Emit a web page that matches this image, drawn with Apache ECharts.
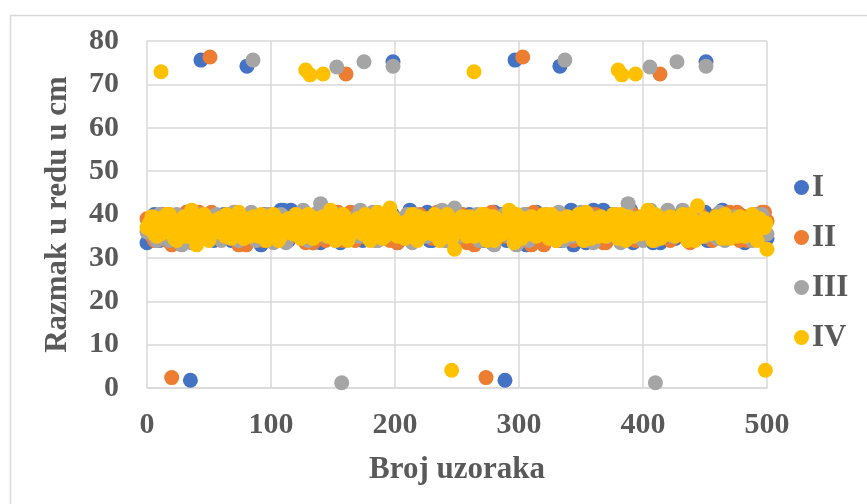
<!DOCTYPE html>
<html>
<head>
<meta charset="utf-8">
<script src="https://cdn.jsdelivr.net/npm/echarts@6/dist/echarts.min.js"></script>
<style>
html,body{margin:0;padding:0;background:#fff;}
#c{width:867px;height:504px;}
</style>
</head>
<body>
<div id="c"></div>
<script>
// Sample numbers (x) for the dense band, interleaved sets
var sampleX = [0,4,8,12,16,20,24,28,32,36,40,44,48,52,56,60,64,68,72,76,80,84,88,92,96,
100,104,108,112,116,120,124,128,132,136,140,144,148,152,156,160,164,168,172,176,180,184,188,192,196,
200,204,208,212,216,220,224,228,232,236,240,244,248,252,256,260,264,268,272,276,280,284,288,292,296,
300,304,308,312,316,320,324,328,332,336,340,344,348,352,356,360,364,368,372,376,380,384,388,392,396,
400,404,408,412,416,420,424,428,432,436,440,444,448,452,456,460,464,468,472,476,480,484,488,492,496,500];

var sampleX2 = [2,6,10,14,18,22,26,30,34,38,42,46,50,54,58,62,66,70,74,78,82,86,90,94,98,
102,106,110,114,118,122,126,130,134,138,142,146,150,154,158,162,166,170,174,178,182,186,190,194,198,
202,206,210,214,218,222,226,230,234,238,242,246,250,254,258,262,266,270,274,278,282,286,290,294,298,
302,306,310,314,318,322,326,330,334,338,342,346,350,354,358,362,366,370,374,378,382,386,390,394,398,
402,406,410,414,418,422,426,430,434,438,442,446,450,454,458,462,466,470,474,478,482,486,490,494,498];

var sampleX3 = [3,7,11,15,19,23,27,31,35,39,43,47,51,55,59,63,67,71,75,79,83,87,91,95,99,
103,107,111,115,119,123,127,131,135,139,143,147,151,155,159,163,167,171,175,179,183,187,191,195,199,
203,207,211,215,219,223,227,231,235,239,243,247,251,255,259,263,267,271,275,279,283,287,291,295,299,
303,307,311,315,319,323,327,331,335,339,343,347,351,355,359,363,367,371,375,379,383,387,391,395,399,
403,407,411,415,419,423,427,431,435,439,443,447,451,455,459,463,467,471,475,479,483,487,491,495,499];

var bandI = [33.5,38,36,40,35,37.5,34,39.5,40.5,35.5,
38,34.5,37,39,35,36.5,40,34,38.5,36,
39,35,37,33,38,36,39.5,41,34,41,
37,35,39,36,40,33.5,38,35,39.5,33.5,
37,36,40,34.5,38,36,39,35,37.5,40,
34,38.5,36,41,35,37,39.5,34,38,36.5,
40,35,33.5,38,36,40,35,37.5,34,39.5,
40.5,35.5,38,34.5,37,39,35,36.5,40,34,
38.5,36,39,35,37,40,33,38,36,39.5,
41,34,41,37,35,39,36,40,33.5,38,
35,39.5,33.5,37,36,40,34.5,38,36,39,
35,37.5,40,34,38.5,36,41,35,37,39.5,
34,38,36.5,40,35,34.5];
var bandI2 = [36,40,34,38.5,35.5,39,33.5,37,40.5,35,
38,36,39.5,34,37,40,35.5,38.5,33.5,36.5,
39,34.5,37.5,40,35,38,36,41,34,37,
39.5,35,38,33.5,36,40,34.5,37,39,35.5,
38,36.5,40.5,34,37,39,35,38.5,36,40,
33.5,37.5,39.5,35,38,36,40.5,34,37,39,
35.5,38,36,40,34.5,37,39.5,35,38.5,33.5,
36.5,40,34,38,35.5,39,33,37,40.5,35,
38,36,39.5,34,37,41,35.5,38.5,33.5,36.5,
39,34.5,37.5,40,35,38,36,41,34,37,
39.5,35,38,33.5,36,40,34.5,37,39,35.5,
38,36.5,40.5,34,37,39,35,38.5,36,40,
33.5,37.5,39.5,35,38];

var bandII = [39,35,37.5,40,34,33,38,36,40.5,35,
37,39,34.5,40.5,36,38,35,39.5,40.5,34,
33,37,36,39,35,38,34,39.5,36,37,
40,35,33.5,38,36,39,34,37.5,40,35,
36,40.5,34,38,35.5,39,36,37,40,34,
38,35,39,36.5,34,40,37,35,38.5,40.5,
36,34,39,37,35,38,33,36,40,34.5,
37,39,35,40.5,36,38,34,39.5,40.5,34,
33,37,36,39,35,38,34,39.5,36,37,
40,35,33.5,38,36,39,34,37.5,40,35,
36,40.5,34,38,35.5,39,36,37,40,34,
38,35,39,36.5,34,40,37,35,38.5,40.5,
36,34,39,37,40.5,38.5];
var bandII2 = [37,34,39.5,36,40,33.5,38,35,39,36.5,
40.5,34.5,37.5,39,35,38,36,40,33,37,
39.5,35.5,38,34,40,36.5,37,39,34.5,38.5,
35,40,36,33.5,38,39.5,35.5,37,40.5,34,
38,36,39,35,37.5,40,34,38.5,36.5,39.5,
33.5,37,40,35,38,36,39,34.5,40.5,37,
34,39.5,36,40,33.5,38,35,39,36.5,40.5,
34.5,37.5,39,35,38,36,40,33,37,39.5,
35.5,38,34,40,36.5,37,39,34.5,38.5,35,
40,36,33.5,38,39.5,35.5,37,40.5,34,38,
36,39,35,37.5,40,34,38.5,36.5,39.5,33.5,
37,40,35,38,36,39,34.5,40.5,37,34,
39.5,36,40,38,40.5];

var bandIII = [36,39,34,38,37,35,40,33,38.5,33.5,
36,39.5,35,37,40,34,38,36,39,35,
37.5,40.5,34,38,35,39,36,40,33.5,37,
39,35,38,36,40,42.5,35,38.5,34,40,
37,36,39,41,35,38,34,40,37,35.5,
39,36,38,34.5,40,37,35,39,36,38,
34,37,41.5,35,39,36,38,34,37,39.5,
33,36,40,35,38,37,40,34,38,36,
39,35,37.5,40.5,34,38,35,39,36,40,
33.5,37,39,35,38,36,40,42.5,35,38.5,
34,40,37,36,39,41,35,38,41,40,
37,35.5,39,36,38,34.5,40,37,35,39,
36,38,34,37,40,35.5];
var bandIII2 = [38,35,40,36.5,34,39,37,33.5,38.5,36,
40,34.5,37,39.5,35,38,36,40.5,34,37.5,
39,35.5,38,36,40,33.5,37,39.5,35,38.5,
36,41,34,37,39,35.5,38,36.5,40,34.5,
37.5,39,35,38,36,40.5,34,37,39.5,35.5,
38,36,40,33.5,37,39,35,38.5,36.5,41,
34,37.5,39,35.5,38,36,40,34.5,37,39.5,
35,38,36.5,40,33,37,39,35.5,38.5,36,
40,34.5,37,39.5,35,38,36,40.5,34,37.5,
39,35.5,38,36,40,33.5,37,39.5,35,38.5,
36,41,34,37,39,35.5,38,36.5,40,34.5,
37.5,39,35,38,36,40.5,34,37,39.5,35.5,
38,36,40,34.5,37];

var bandIV = [37,39.5,35,38,40,36,34,38.5,36,41,
33,37,39,35.5,38,36,40,34.5,37,39,
35,38,36.5,40,34,37.5,39,35,38,36,
40,34.5,37,39.5,35,38,36,41,34,37,
39,35.5,38,36,40,34,37.5,39,35,41.5,
36,38,34.5,39,37,35,38,36,40,34,
37,39,32,38,36,39.5,35,38,40,36,
34,38.5,36,41,33.5,37,39,35.5,38,36,
40,34.5,37,39,35,38,36.5,40,34,37.5,
39,35,38,36,40,34.5,37,39.5,35,38,
36,41,34,37,39,35.5,38,36,40,34,
37.5,42,35,38,36,38,34.5,39,37,35,
38,36,40,34,37,32];
var bandIV2 = [38,35.5,39,36,40,34.5,37.5,39.5,35,38,
36.5,40,34,37,39,35.5,38.5,36,40.5,34.5,
37,39.5,35,38,36,40,34,37.5,39,35.5,
38,36.5,40,34.5,37,39.5,35,38.5,36,40,
34,37,39,35.5,38,36,40.5,34.5,37.5,39.5,
35,38,36.5,40,34,37,39,35.5,38.5,36,
40,34.5,37,39.5,35,38,36,40,34,37.5,
39,35.5,38,36.5,40,34.5,37,39.5,35,38.5,
36,40,34,37,39,35.5,38,36,40.5,34.5,
37.5,39.5,35,38,36.5,40,34,37,39,35.5,
38.5,36,40,34.5,37,39.5,35,38,36,40,
34,37.5,39,35.5,38,36.5,40,34.5,37,39.5,
35,38,36,39,37];
var bandIV3 = [36.5,38,35.5,37,39,36,38.5,35,37.5,39.5,
35.5,37,38.5,36,39,35,37.5,38,36.5,39,
35,38,36,37.5,39.5,35.5,37,38.5,36,39,
37,35,38,36.5,39,35.5,37.5,38.5,36,39.5,
35,37,38,36,39,35.5,38.5,36.5,37.5,39,
36,38,35,37,39.5,35.5,38.5,36.5,37,39,
35,37.5,38,36,39,35.5,37,38.5,36.5,39.5,
35,38,36,37.5,39,35.5,37,38.5,36,39,
37,35,38,36.5,39.5,35.5,37.5,38.5,36,39,
35,37,38,36,39,35.5,38.5,36.5,37.5,39.5,
36,38,35,37,39,35.5,38.5,36.5,37,39,
35,37.5,38,36,39.5,35.5,37,38.5,36.5,39,
36,38,35.5,37,38];

// Outlying samples [x, y]
var outI   = [[43.5,75.6],[80.6,74.2],[198.4,75.2],[296.8,75.6],[333,74.2],[450.8,75.2],[35,1.8],[288.7,1.8]];
var outII  = [[50.8,76.3],[160.5,72.4],[303,76.3],[413.7,72.4],[19.9,2.4],[273.4,2.4]];
var outIII = [[85.5,75.6],[153,74],[175,75.2],[198.4,74.2],[337,75.6],[405.6,74],[427.4,75.2],[450.8,74.2],[157,1.2],[410,1.2]];
var outIV  = [[11.3,72.9],[128,73.3],[131.5,72.2],[142,72.4],[263.7,72.9],[380,73.3],[383,72.2],[394,72.4],[245.7,4.1],[498.7,4.1]];

var seriesNames = ['I','II','III','IV'];
var colors = ['#4472C4','#ED7D31','#A5A5A5','#FFC000'];
var xTicks = [0,100,200,300,400,500];
var yTicks = [0,10,20,30,40,50,60,70,80];

function pair(xs, ys) {
  var d = [];
  var n = Math.min(xs.length, ys.length);
  for (var i = 0; i < n; i++) d.push([xs[i], ys[i]]);
  return d;
}
var allData = [
  pair(sampleX, bandI).concat(pair(sampleX2, bandI2), outI),
  pair(sampleX, bandII).concat(pair(sampleX2, bandII2), outII),
  pair(sampleX, bandIII).concat(pair(sampleX2, bandIII2), outIII),
  pair(sampleX, bandIV).concat(pair(sampleX2, bandIV2), pair(sampleX3, bandIV3), outIV)
];

var FONT = '"Liberation Serif","Times New Roman",serif';
var TXT = '#595959';

var chart = echarts.init(document.getElementById('c'), null, {renderer:'canvas'});
chart.setOption({
  animation: false,
  backgroundColor: '#fff',
  color: colors,
  graphic: [{
    type: 'rect', left: 8, top: 13, silent: true,
    shape: {width: 870, height: 500},
    style: {fill: 'none', stroke: '#d9d9d9', lineWidth: 1.5}
  }],
  grid: {left: 147, right: 100, top: 41, bottom: 116, containLabel: false},
  legend: {
    orient: 'vertical', left: 789, top: 167,
    itemGap: 19, itemWidth: 15, itemHeight: 15, icon: 'circle',
    textStyle: {fontFamily: FONT, fontWeight: 'bold', fontSize: 31, color: TXT, padding: [0,0,0,-2]},
    data: seriesNames
  },
  xAxis: {
    type: 'value', min: xTicks[0], max: xTicks[xTicks.length-1], interval: 100,
    name: 'Broj uzoraka', nameLocation: 'middle', nameGap: 66,
    nameTextStyle: {fontFamily: FONT, fontWeight: 'bold', fontSize: 31, color: TXT},
    axisLine: {show: true, lineStyle: {color: '#d9d9d9', width: 1.5}},
    axisTick: {show: false},
    axisLabel: {fontFamily: FONT, fontWeight: 'bold', fontSize: 30, color: TXT, margin: 22},
    splitLine: {show: true, lineStyle: {color: '#d9d9d9', width: 1.5}}
  },
  yAxis: {
    type: 'value', min: yTicks[0], max: yTicks[yTicks.length-1], interval: 10,
    name: 'Razmak u redu u cm', nameLocation: 'middle', nameGap: 74,
    nameTextStyle: {fontFamily: FONT, fontWeight: 'bold', fontSize: 31, color: TXT},
    axisLine: {show: false},
    axisTick: {show: false},
    axisLabel: {fontFamily: FONT, fontWeight: 'bold', fontSize: 30, color: TXT, margin: 28},
    splitLine: {show: true, lineStyle: {color: '#d9d9d9', width: 1.5}}
  },
  series: seriesNames.map(function(nm, k){
    return {
      name: nm, type: 'scatter', data: allData[k],
      symbol: 'circle', symbolSize: 15,
      itemStyle: {color: colors[k], opacity: 1},
      emphasis: {disabled: true},
      z: 2 + k
    };
  })
});
</script>
</body>
</html>
